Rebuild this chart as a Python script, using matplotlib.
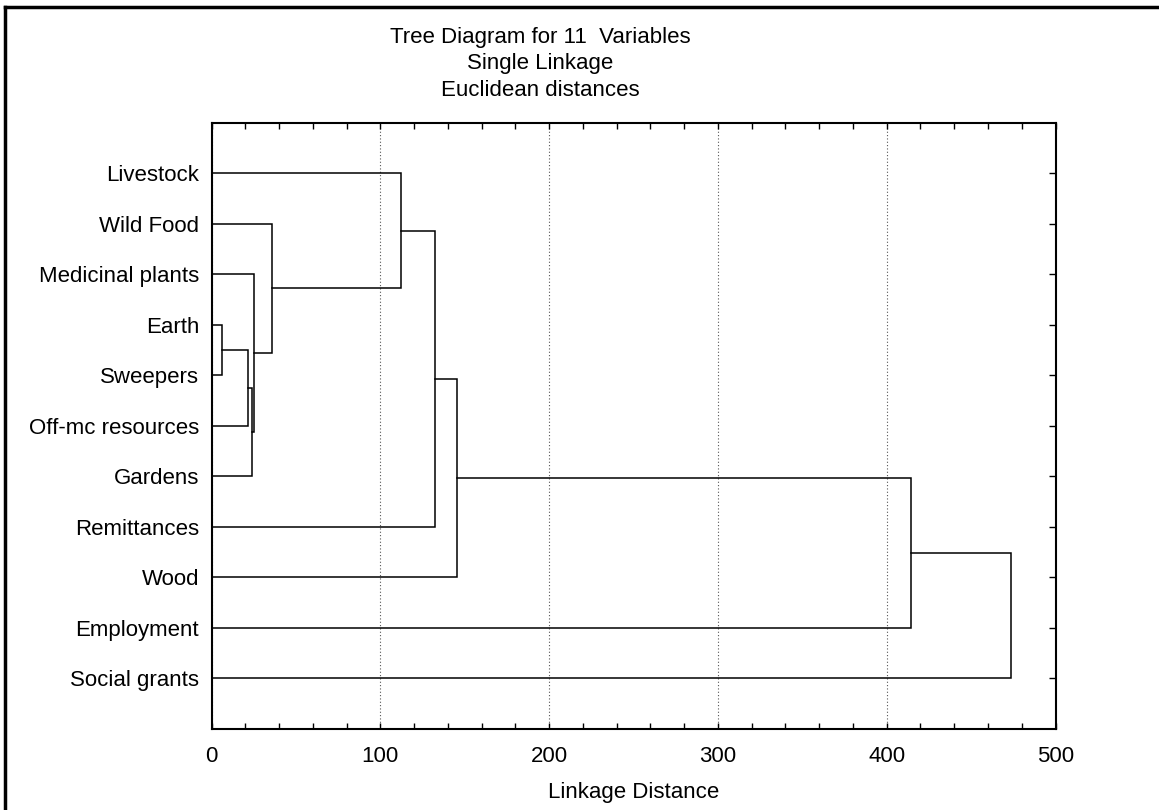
import matplotlib
matplotlib.use("Agg")
import matplotlib.pyplot as plt
from matplotlib.lines import Line2D

plt.rcParams['font.family'] = ['Liberation Sans', 'DejaVu Sans']

# Leaves, top to bottom
labels = ['Livestock', 'Wild Food', 'Medicinal plants', 'Earth', 'Sweepers',
          'Off-mc resources', 'Gardens', 'Remittances', 'Wood', 'Employment',
          'Social grants']

# Merge steps: (left cluster, right cluster) and linkage distance
# clusters 0..10 are leaves, new clusters numbered from 11 on
merge_pairs = [(3, 4), (11, 5), (12, 6), (2, 13), (1, 14), (0, 15),
               (16, 7), (17, 8), (18, 9), (19, 10)]
merge_dist = [6.1, 21.8, 23.9, 25.1, 36.0, 112.2, 132.5, 145.4, 414.2, 473.6]

fig = plt.figure(figsize=(11.59, 8.10), dpi=100)
ax = fig.add_axes([0.1825, 0.1, 0.7282, 0.7485])

# positions of each cluster (x = height, y = row)
pos = {i: (0.0, i + 1.0) for i in range(len(labels))}
for k, ((a, b), h) in enumerate(zip(merge_pairs, merge_dist)):
    xa, ya = pos[a]
    xb, yb = pos[b]
    ax.plot([xa, h, h, xb], [ya, ya, yb, yb], color='black', lw=1.1,
            solid_joinstyle='miter', zorder=3)
    pos[len(labels) + k] = (h, (ya + yb) / 2)

ax.set_xlim(0, 500)
ax.set_ylim(12, 0)
ax.set_xticks([0, 100, 200, 300, 400, 500])
ax.set_xticks(range(0, 501, 20), minor=True)
ax.set_yticks(range(1, len(labels) + 1))
ax.set_yticklabels(labels)
ax.grid(axis='x', which='major', linestyle=(0, (1, 2)), color='#555555', lw=0.8)

ax.tick_params(axis='x', which='both', direction='in', top=True, bottom=True,
               length=4, width=1, labelsize=16, pad=12)
ax.tick_params(axis='y', direction='in', left=False, right=True,
               length=5, width=1, labelsize=16, pad=9)
for sp in ax.spines.values():
    sp.set_linewidth(1.5)

ax.set_xlabel('Linkage Distance', fontsize=16, labelpad=11)

title_lines = ['Tree Diagram for 11  Variables', 'Single Linkage', 'Euclidean distances']
for i, t in enumerate(title_lines):
    fig.text(0.466, 0.954 - i * 0.0328, t, ha='center', va='center', fontsize=16)

# partial frame around the figure (top and left edges)
fig.add_artist(Line2D([5 / 1159, 5 / 1159], [0, 1 - 6.5 / 810], color='black', lw=2.5,
                      transform=fig.transFigure))
fig.add_artist(Line2D([5 / 1159, 1], [1 - 6.5 / 810, 1 - 6.5 / 810], color='black', lw=2.5,
                      transform=fig.transFigure))

fig.savefig('out.png', dpi=100)
